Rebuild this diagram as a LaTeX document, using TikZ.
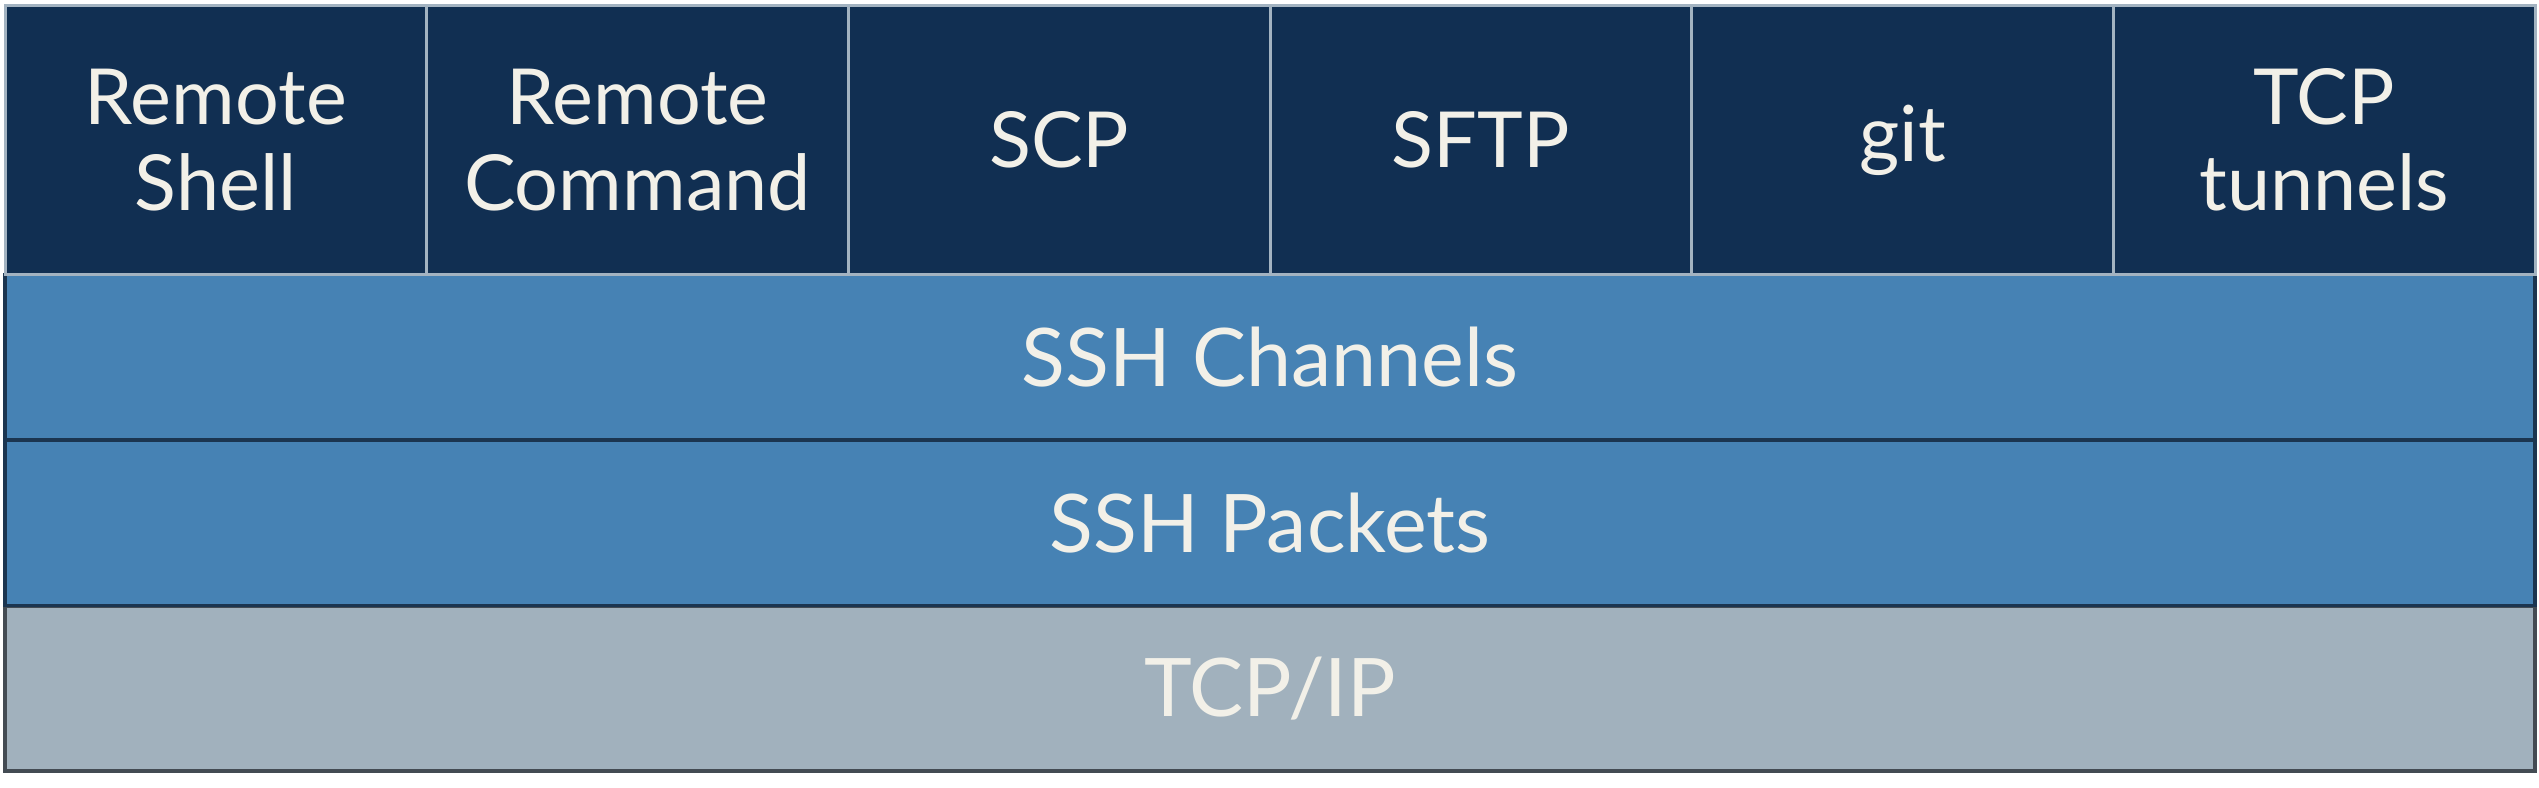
\documentclass[tikz,border=0pt]{standalone}
\usepackage{fontspec}
\setmainfont{Lato}
\usetikzlibrary{positioning}
\definecolor{appfill}{HTML}{112F52}
\definecolor{appline}{HTML}{A3B3C1}
\definecolor{sshfill}{HTML}{4682B4}
\definecolor{sshline}{HTML}{1B3550}
\definecolor{tcpfill}{HTML}{A1B1BD}
\definecolor{tcpline}{HTML}{434B53}
\definecolor{etiqueta}{HTML}{F2F0E8}
\tikzset{
	aplicacion/.style={rectangle, fill=appfill, draw=appline, line width=0.03cm,
		text=etiqueta, font=\fontsize{22}{24.4}\selectfont, minimum width=4.2167cm,
		minimum height=2.69cm, align=center, outer sep=0pt, inner sep=0pt},
	capa/.style={rectangle, fill=sshfill, draw=sshline, line width=0.035cm,
		text=etiqueta, font=\fontsize{23}{26}\selectfont, minimum width=25.3cm,
		minimum height=1.655cm, outer sep=0pt, inner sep=0pt},
	base/.style={capa, fill=tcpfill, draw=tcpline, line width=0.04cm}
}
\begin{document}
\begin{tikzpicture}[node distance=0pt]
			\useasboundingbox (0,0) rectangle (25.39,-7.88);
			
			\node[base, anchor=south west] (tcp) at (0.05,-7.71) {TCP/IP};
			\node[capa, above=of tcp] (packets) {SSH Packets};
			\node[capa, above=of packets] (channels) {SSH Channels};
			
			\node[aplicacion, above right=of channels.north west] (shell) {Remote\\Shell};
			\node[aplicacion, right=of shell] (command) {Remote\\Command};
			\node[aplicacion, right=of command] (scp) {SCP};
			\node[aplicacion, right=of scp] (sftp) {SFTP};
			\node[aplicacion, right=of sftp] (git) {git};
			\node[aplicacion, right=of git] (tunnels) {TCP\\tunnels};
		\end{tikzpicture}
\end{document}
